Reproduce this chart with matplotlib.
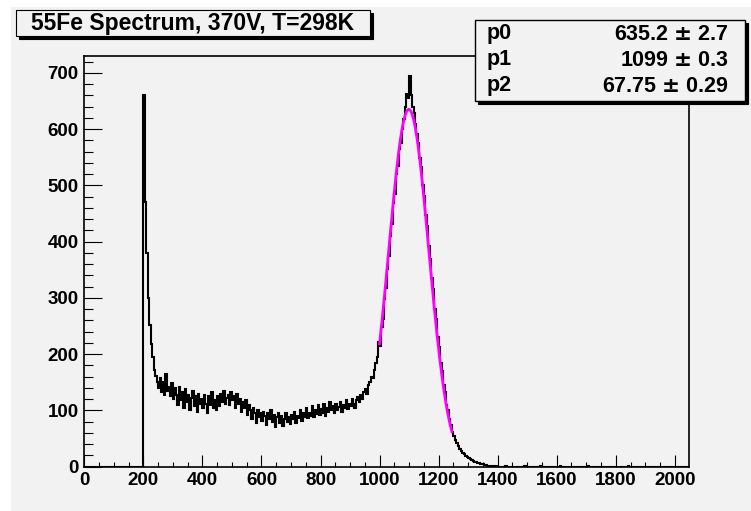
import numpy as np
import matplotlib
matplotlib.use("Agg")
import matplotlib.pyplot as plt
from matplotlib.patches import Rectangle

# ---------------- data ----------------
title = "55Fe Spectrum, 370V, T=298K"
bin_start = 200
bin_width = 5
counts = [
    661, 470, 380, 300, 252, 218, 195, 172, 162, 150,   # 200-245
    140, 158, 132, 150, 128, 165, 135, 142, 125, 148,   # 250-295
    120, 140, 128, 110, 142, 118, 132, 105, 138, 115,   # 300-345
    128, 100, 122, 135, 108, 125, 98, 130, 112, 120,    # 350-395
    105, 128, 112, 96, 125, 110, 132, 104, 118, 100,    # 400-445
    126, 108, 130, 115, 135, 112, 122, 128, 110, 132,   # 450-495
    118, 125, 105, 130, 112, 120, 98, 115, 105, 118,    # 500-545
    92, 110, 100, 85, 105, 95, 78, 100, 88, 96,         # 550-595
    82, 98, 90, 75, 95, 85, 100, 80, 92, 70,            # 600-645
    88, 95, 78, 90, 72, 85, 96, 80, 88, 76,             # 650-695
    92, 84, 98, 78, 90, 86, 100, 82, 95, 88,            # 700-745
    104, 86, 96, 90, 108, 88, 100, 94, 110, 92,         # 750-795
    102, 96, 112, 90, 105, 98, 115, 100, 108, 96,       # 800-845
    112, 100, 106, 115, 98, 110, 104, 118, 102, 112,    # 850-895
    108, 120, 112, 105, 118, 124, 115, 128, 120, 132,   # 900-945
    138, 130, 145, 150, 160, 158, 172, 185, 195, 222,   # 950-995
    215, 248, 262, 298, 318, 352, 375, 410, 432, 468,   # 1000-1045
    485, 520, 535, 565, 575, 600, 618, 640, 662, 655,   # 1050-1095
    694, 660, 640, 628, 610, 592, 575, 548, 532, 500,   # 1100-1145
    482, 448, 428, 392, 370, 335, 315, 280, 262, 230,   # 1150-1195
    212, 185, 170, 145, 132, 110, 100, 84, 75, 62,      # 1200-1245
    55, 47, 42, 36, 31, 28, 24, 22, 19, 17,             # 1250-1295
    16, 14, 12, 11, 9, 8, 7, 6, 5, 4,                   # 1300-1345
    4, 3, 3, 2, 2, 2, 1, 1, 1, 1,                       # 1350-1395
]
tail_bins = [1425, 1490, 1545, 1610, 1705, 1840]
tail_counts = [1, 1, 1, 1, 1, 1]
x_max = 2048
y_max = 730

par_names = ["p0", "p1", "p2"]
par_values = ["635.2", "1099", "67.75"]
par_errors = ["2.7", "0.3", "0.29"]
fit_p = [635.2, 1099.0, 67.75]
fit_range = [1000, 1245]

# ---------------- figure ----------------
W, H = 751, 511
plt.rcParams["font.family"] = ["Liberation Sans", "DejaVu Sans"]
plt.rcParams["font.weight"] = "bold"
bg = "#f2f2f2"

fig = plt.figure(figsize=(W / 100, H / 100), dpi=100, facecolor="white")

def fx(px):
    return px / W

def fy(py):
    return 1 - py / H

# gray canvas
fig.add_artist(Rectangle((fx(11), 0), 1 - fx(11), fy(7), transform=fig.transFigure,
                         facecolor=bg, edgecolor="none", zorder=0))

ax_l, ax_r, ax_t, ax_b = 84.3, 689, 56, 466.7
ax = fig.add_axes([fx(ax_l), fy(ax_b), fx(ax_r) - fx(ax_l), fy(ax_t) - fy(ax_b)])
ax.set_facecolor(bg)

# histogram
nb = int(np.ceil(x_max / bin_width)) + 1
edges = np.arange(nb + 1) * bin_width
vals = np.zeros(nb)
i0 = bin_start // bin_width
vals[i0:i0 + len(counts)] = counts
for b, c in zip(tail_bins, tail_counts):
    vals[b // bin_width] = c
ax.stairs(vals, edges, color="black", lw=1.5, baseline=0, zorder=3)

# gaussian fit
xf = np.linspace(fit_range[0], fit_range[1], 200)
yf = fit_p[0] * np.exp(-0.5 * ((xf - fit_p[1]) / fit_p[2]) ** 2)
ax.plot(xf, yf, color="#ff00ff", lw=2.0, zorder=4)

ax.set_xlim(0, x_max)
ax.set_ylim(0, y_max)
ax.set_xticks(np.arange(0, 2001, 200))
ax.set_xticks(np.arange(0, x_max + 1, 50), minor=True)
ax.set_yticks(np.arange(0, 701, 100))
ax.set_yticks(np.arange(0, y_max + 1, 20), minor=True)
ax.tick_params(axis="x", which="major", direction="in", length=8.5, width=0.8, pad=4,
               labelsize=13.5)
ax.tick_params(axis="x", which="minor", direction="in", length=3.8, width=0.8)
ax.tick_params(axis="y", which="major", direction="in", length=13, width=0.8, pad=4,
               labelsize=13.5)
ax.tick_params(axis="y", which="minor", direction="in", length=6.5, width=0.8)
for lab in ax.get_xticklabels() + ax.get_yticklabels():
    lab.set_fontweight("bold")
for s in ax.spines.values():
    s.set_linewidth(1.2)
    s.set_color("black")

# title box
tl, tt, tr, tb = 16, 10, 370, 36
fig.add_artist(Rectangle((fx(tl + 3), fy(tb + 3)), fx(tr) - fx(tl), fy(tt) - fy(tb),
                         transform=fig.transFigure, facecolor="black", edgecolor="black",
                         lw=0.8, zorder=5))
fig.add_artist(Rectangle((fx(tl), fy(tb)), fx(tr) - fx(tl), fy(tt) - fy(tb),
                         transform=fig.transFigure, facecolor=bg, edgecolor="black",
                         lw=0.8, zorder=6))
fig.text(fx((tl + tr) / 2), fy((tt + tb) / 2 + 0.5), title, ha="center", va="center",
         fontsize=16.5, fontweight="bold", zorder=7)

# stats box
sl, st, sr, sb = 475, 20, 745, 101
fig.add_artist(Rectangle((fx(sl + 3), fy(sb + 3)), fx(sr) - fx(sl), fy(st) - fy(sb),
                         transform=fig.transFigure, facecolor="black", edgecolor="black",
                         lw=0.8, zorder=5))
fig.add_artist(Rectangle((fx(sl), fy(sb)), fx(sr) - fx(sl), fy(st) - fy(sb),
                         transform=fig.transFigure, facecolor=bg, edgecolor="black",
                         lw=1.0, zorder=6))
row_y = [34, 60, 86]
for yy, name, v, e in zip(row_y, par_names, par_values, par_errors):
    fig.text(fx(487), fy(yy), name, ha="left", va="center", fontsize=15.5,
             fontweight="bold", zorder=7)
    fig.text(fx(729), fy(yy), f"{v} $\\pm$ {e}", ha="right", va="center",
             fontsize=15.5, fontweight="bold", zorder=7)

fig.savefig("out.png", dpi=100, facecolor=fig.get_facecolor())
